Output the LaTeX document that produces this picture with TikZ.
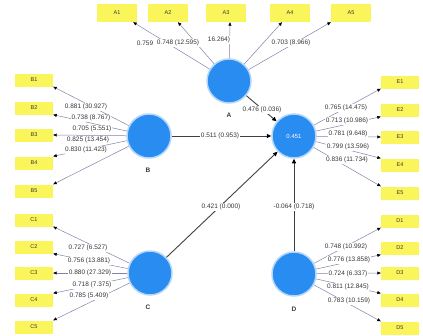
\documentclass[tikz,border=0pt]{standalone}
\usepackage{fontspec}
\setmainfont{Liberation Sans}
\usetikzlibrary{arrows.meta,calc}
\definecolor{ybox}{RGB}{250,245,90}
\definecolor{lvblue}{RGB}{40,140,240}
\definecolor{halo}{RGB}{180,214,250}
\definecolor{ldline}{RGB}{130,130,170}
\definecolor{txt}{RGB}{55,55,55}
\begin{document}
\begin{tikzpicture}[x=1pt,y=-1pt,
  ind/.style={rectangle, fill=ybox, minimum width=38pt, minimum height=13pt, inner sep=0pt, font=\fontsize{5.5}{6}\selectfont, text=txt},
  indA/.style={ind, minimum width=40pt, minimum height=18pt},
  lv/.style={circle, fill=lvblue, draw=halo, line width=1.5pt, minimum size=44pt, inner sep=0pt, text=white, font=\fontsize{6}{7}\selectfont},
  lvname/.style={font=\fontsize{6.5}{7}\selectfont\bfseries, text=txt},
  load/.style={draw=ldline, line width=0.5pt, -{Triangle[length=3.5pt,width=3pt,color=black]}},
  pth/.style={draw=black!75, line width=0.9pt, -{Triangle[length=4.5pt,width=4pt,color=black]}},
  lab/.style={fill=white, inner sep=0.5pt, font=\fontsize{6.5}{7}\selectfont, text=txt}]
\useasboundingbox (0,0) rectangle (423,335);

% latent variables
\node[lv] (A) at (229,81) {};
\node[lv] (B) at (149,136) {};
\node[lv] (T) at (294,136) {0.451};
\node[lv] (C) at (150,273) {};
\node[lv] (D) at (294,274) {};
\node[lvname] (An) at (229,115) {A};
\node[lvname] (Bn) at (148,170) {B};
\node[lvname] (Cn) at (148,307) {C};
\node[lvname] (Dn) at (294,309) {D};

% indicators A
\node[indA] (A1) at (117,13) {A1};
\node[indA] (A2) at (168,13) {A2};
\node[indA] (A3) at (226,13) {A3};
\node[indA] (A4) at (290,13) {A4};
\node[indA] (A5) at (351,13) {A5};
% indicators B
\node[ind] (B1) at (34,80) {B1};
\node[ind] (B2) at (34,108) {B2};
\node[ind] (B3) at (34,135) {B3};
\node[ind] (B4) at (34,163) {B4};
\node[ind] (B5) at (34,191) {B5};
% indicators E
\node[ind] (E1) at (400,82) {E1};
\node[ind] (E2) at (400,110) {E2};
\node[ind] (E3) at (400,137) {E3};
\node[ind] (E4) at (400,165) {E4};
\node[ind] (E5) at (400,193) {E5};
% indicators C
\node[ind] (C1) at (34,220) {C1};
\node[ind] (C2) at (34,247) {C2};
\node[ind] (C3) at (34,273) {C3};
\node[ind] (C4) at (34,300) {C4};
\node[ind] (C5) at (34,327) {C5};
% indicators D
\node[ind] (D1) at (400,221) {D1};
\node[ind] (D2) at (400,248) {D2};
\node[ind] (D3) at (400,273) {D3};
\node[ind] (D4) at (400,300) {D4};
\node[ind] (D5) at (400,328) {D5};

% loadings A
\draw[load] (A) -- ($(A1.south east)+(-4,0)$);
\draw[load] (A) -- ($(A2.south)+(10,0)$);
\draw[load] (A) -- ($(A3.south)+(4,0)$);
\draw[load] (A) -- ($(A4.south)+(-8,0)$);
\draw[load] (A) -- (A5.south west);
% loadings B
\draw[load] (B) -- (B1.south east);
\draw[load] (B) -- (B2.south east);
\draw[load] (B) -- (B3.east);
\draw[load] (B) -- (B4.north east);
\draw[load] (B) -- (B5.north east);
% loadings E
\draw[load] (T) -- (E1.south west);
\draw[load] (T) -- (E2.south west);
\draw[load] (T) -- (E3.west);
\draw[load] (T) -- (E4.north west);
\draw[load] (T) -- (E5.north west);
% loadings C
\draw[load] (C) -- (C1.south east);
\draw[load] (C) -- (C2.south east);
\draw[load] (C) -- (C3.east);
\draw[load] (C) -- (C4.north east);
\draw[load] (C) -- (C5.north east);
% loadings D
\draw[load] (D) -- (D1.south west);
\draw[load] (D) -- (D2.south west);
\draw[load] (D) -- (D3.west);
\draw[load] (D) -- (D4.north west);
\draw[load] (D) -- (D5.north west);

% structural paths
\draw[pth] (A) -- (T);
\draw[pth] (B) -- (T);
\draw[pth] (C) -- (T);
\draw[pth] (D) -- (T);

% labels A
\node[lab] (la1) at (145,43) {0.759};
\node[lab] (la3) at (219,40) {16.264)};
\node[lab] (la2) at (178,43) {0.748 (12.595)};
\node[lab] (la4) at (291,43) {0.703 (8.966)};
% labels B
\node[lab] (lb1) at (86,107) {0.881 (30.927)};
\node[lab] (lb2) at (91,118) {0.738 (8.767)};
\node[lab] (lb3) at (92,129) {0.705 (5.551)};
\node[lab] (lb4) at (88,140) {0.825 (13.454)};
\node[lab] (lb5) at (86,150) {0.830 (11.423)};
% labels E
\node[lab] (le1) at (346,108) {0.765 (14.475)};
\node[lab] (le2) at (347,121) {0.713 (10.986)};
\node[lab] (le3) at (348,134) {0.781 (9.648)};
\node[lab] (le4) at (348,147) {0.799 (13.596)};
\node[lab] (le5) at (347,160) {0.836 (11.734)};
% labels C
\node[lab] (lc1) at (88,248) {0.727 (6.527)};
\node[lab] (lc2) at (89,261) {0.756 (13.881)};
\node[lab] (lc3) at (90,273) {0.880 (27.329)};
\node[lab] (lc4) at (92,285) {0.718 (7.375)};
\node[lab] (lc5) at (89,296) {0.785 (5.409)};
% labels D
\node[lab] (ld1) at (346,247) {0.748 (10.992)};
\node[lab] (ld2) at (349,260) {0.776 (13.858)};
\node[lab] (ld3) at (348,274) {0.724 (6.337)};
\node[lab] (ld4) at (348,287) {0.811 (12.845)};
\node[lab] (ld5) at (349,301) {0.783 (10.159)};
% path labels
\node[lab] (p1) at (262,110) {0.476 (0.036)};
\node[lab] (p2) at (220,136) {0.511 (0.953)};
\node[lab] (p3) at (221,207) {0.421 (0.000)};
\node[lab] (p4) at (294,207) {-0.064 (0.718)};
\end{tikzpicture}
\end{document}
